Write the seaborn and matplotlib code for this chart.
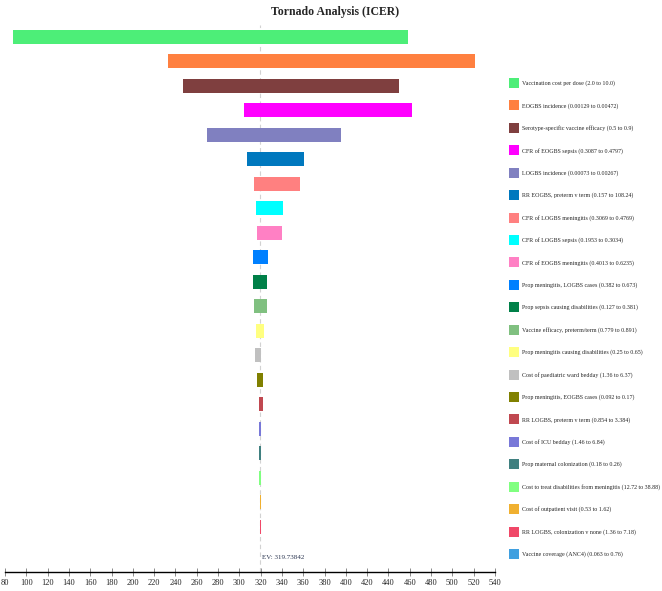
import numpy as np
import pandas as pd
import matplotlib
matplotlib.use("Agg")
import matplotlib.pyplot as plt
import seaborn as sns
from matplotlib.patches import Patch

# Title
title = "Tornado Analysis (ICER)"
ev_value = 319.73842

# Parameters (top to bottom) and ICER range for each
params = [
    "Vaccination cost per dose (2.0 to 10.0)",
    "EOGBS incidence (0.00129 to 0.00472)",
    "Serotype-specific vaccine efficacy (0.5 to 0.9)",
    "CFR of EOGBS sepsis (0.3087 to 0.4797)",
    "LOGBS incidence (0.00073 to 0.00267)",
    "RR EOGBS, preterm v term (0.157 to 108.24)",
    "CFR of LOGBS meningitis (0.3069 to 0.4769)",
    "CFR of LOGBS sepsis (0.1953 to 0.3034)",
    "CFR of EOGBS meningitis (0.4013 to 0.6235)",
    "Prop meningitis, LOGBS cases (0.382 to 0.673)",
    "Prop sepsis causing disabilities (0.127 to 0.381)",
    "Vaccine efficacy, preterm/term (0.779 to 0.891)",
    "Prop meningitis causing disabilities (0.25 to 0.65)",
    "Cost of paediatric ward bedday (1.36 to 6.37)",
    "Prop meningitis, EOGBS cases (0.092 to 0.17)",
    "RR LOGBS, preterm v term (0.854 to 3.384)",
    "Cost of ICU bedday (1.46 to 6.84)",
    "Prop maternal colonization (0.18 to 0.26)",
    "Cost to treat disabilities from meningitis (12.72 to 38.88)",
    "Cost of outpatient visit (0.53 to 1.62)",
    "RR LOGBS, colonization v none (1.36 to 7.18)",
    "Vaccine coverage (ANC4) (0.063 to 0.76)",
]
icer_low = [87.5, 233.0, 247.0, 304.0, 269.4, 307.0, 314.0, 315.7, 316.3, 312.6, 313.2,
            314.1, 315.7, 314.7, 316.3, 318.2, 318.4, 318.6, 318.9, 319.4, 319.5, 319.6]
icer_high = [458.0, 521.0, 450.0, 462.0, 395.2, 360.5, 357.0, 341.3, 339.8, 326.7, 326.3,
             325.7, 323.2, 320.4, 322.5, 322.3, 320.1, 320.4, 320.2, 320.0, 319.9, 319.85]
bar_colors = ["#4DEE78", "#FF8040", "#7F3F3F", "#FF00FF", "#8080C0", "#0078BE",
              "#FF8080", "#00FFFF", "#FF80C4", "#0080FF", "#008048", "#80C080",
              "#FFFF80", "#C0C0C0", "#808000", "#C04850", "#7878D8", "#408080",
              "#80FF80", "#F0B030", "#F04868", "#40A0E0"]
x_ticks = list(range(80, 541, 20))

df = pd.DataFrame({"param": params, "low": icer_low, "high": icer_high})
df["span"] = df["high"] - df["low"]

sns.set_theme(style="white")
plt.rcParams["font.family"] = ["Liberation Serif", "DejaVu Serif"]

fig = plt.figure(figsize=(6.62, 5.91), dpi=100)
ax = fig.add_axes([5 / 662, 1 - 572 / 591, 490 / 662, (572 - 24.75) / 591])

# Tornado bars: each bar spans from low to high ICER
ax.barh(np.arange(len(df)), df["span"], left=df["low"], height=0.57,
        color=bar_colors, edgecolor="none", zorder=2)

# Expected value line
ax.axvline(ev_value, color="#D2D2D2", lw=0.8, ls=(0, (4, 3)), zorder=1)
ax.text(ev_value + 1.5, 21.25, f"EV: {ev_value}", fontsize=5, color="#2A3550",
        va="center", ha="left")

# Formatting
ax.set_xlim(80, 540)
ax.set_ylim(21.857, -0.5)
ax.set_xticks(x_ticks)
ax.set_xticklabels([str(t) for t in x_ticks], fontsize=6)
ax.set_yticks([])
for side in ["top", "right", "left"]:
    ax.spines[side].set_visible(False)
ax.spines["bottom"].set_color("black")
ax.spines["bottom"].set_linewidth(1.0)
ax.tick_params(axis="x", direction="inout", length=6, width=0.6, color="#777777",
               pad=2, bottom=True)
ax.patch.set_alpha(0)

fig.text(335 / 662, 1 - 12 / 591, title, fontsize=8.5, fontweight="bold",
         ha="center", va="center")

handles = [Patch(facecolor=c, edgecolor="none") for c in bar_colors]
fig.legend(handles, params, loc="upper left", bbox_to_anchor=(509 / 662, 1 - 78 / 591),
           frameon=False, fontsize=4.3, handlelength=1.6, handleheight=2.2,
           handletextpad=0.5, labelspacing=2.08, borderpad=0, borderaxespad=0)

plt.savefig("out.png", dpi=100)
